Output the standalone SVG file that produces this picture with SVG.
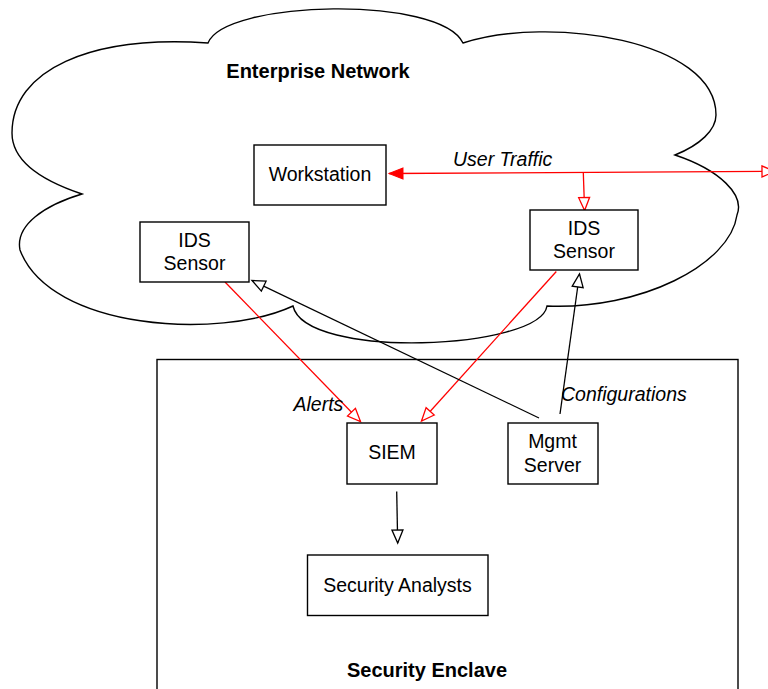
<svg xmlns="http://www.w3.org/2000/svg" width="768" height="689" viewBox="0 0 768 689">
<style>
.box{fill:#fff;stroke:#000;stroke-width:1.4}
.t{font-family:"Liberation Sans",Arial,sans-serif;font-size:19.5px;fill:#000;text-anchor:middle}
.b{font-family:"Liberation Sans",Arial,sans-serif;font-size:20px;font-weight:bold;fill:#000;text-anchor:middle}
.i{font-family:"Liberation Sans",Arial,sans-serif;font-size:19.5px;font-style:italic;fill:#000}
.red{stroke:#ff0000;stroke-width:1.3;fill:none}
.blk{stroke:#000;stroke-width:1.3;fill:none}
</style>
<defs>
<marker id="openRed" markerWidth="16" markerHeight="14" refX="14" refY="6" orient="auto" markerUnits="userSpaceOnUse" overflow="visible"><path d="M1,0.5 L14,6 L1,11.5 z" fill="#fff" stroke="#ff0000" stroke-width="1.3"/></marker>
<marker id="openRedStart" markerWidth="16" markerHeight="14" refX="14" refY="6" orient="auto-start-reverse" markerUnits="userSpaceOnUse" overflow="visible"><path d="M1,0.5 L14,6 L1,11.5 z" fill="#fff" stroke="#ff0000" stroke-width="1.3"/></marker>
<marker id="openBlk" markerWidth="16" markerHeight="14" refX="14" refY="6" orient="auto" markerUnits="userSpaceOnUse" overflow="visible"><path d="M1,0.5 L14,6 L1,11.5 z" fill="#fff" stroke="#000" stroke-width="1.3"/></marker>
<marker id="fillRed" markerWidth="16" markerHeight="14" refX="14" refY="6" orient="auto" markerUnits="userSpaceOnUse" overflow="visible"><path d="M0,0.5 L14,6 L0,11.5 z" fill="#ff0000" stroke="#ff0000" stroke-width="1"/></marker>
</defs>
<rect width="768" height="689" fill="#fff"/>
<g id="enterprise-network">
<path d="M82,194 C40,180 12,160 12,133 C12,70 90,35 208,43 C225,0 440,-5 463,43 C550,15 716,40 716,115 C716,130 700,145 675,155 C720,170 745,195 737,215 C730,265 640,310 547,306 C540,350 305,360 293,306 C220,340 50,330 20,250 C15,225 45,205 82,194 Z" fill="#fff" stroke="#000" stroke-width="1.4"/>
<text class="b" x="318" y="77.5">Enterprise Network</text>
</g>
<g id="security-enclave">
<rect x="157" y="359.5" width="581" height="360" fill="none" stroke="#000" stroke-width="1.4"/>
<text class="b" x="427" y="676.5">Security Enclave</text>
</g>
<g id="connectors">
<line class="red" x1="775" y1="171.4" x2="389" y2="173.5" marker-start="url(#openRedStart)" marker-end="url(#fillRed)"/>
<polyline class="red" points="583.3,172.6 584.6,210.5" marker-end="url(#openRed)"/>
<line class="red" x1="225" y1="282" x2="360.5" y2="421.5" marker-end="url(#openRed)"/>
<line class="red" x1="556.3" y1="271.5" x2="421.5" y2="421" marker-end="url(#openRed)"/>
<line class="blk" x1="539" y1="418" x2="252" y2="280.5" marker-end="url(#openBlk)"/>
<line class="blk" x1="560" y1="414" x2="579.5" y2="274" marker-end="url(#openBlk)"/>
<line class="blk" x1="396.7" y1="491.5" x2="397.7" y2="543" marker-end="url(#openBlk)"/>
<text class="i" x="453" y="166">User Traffic</text>
<text class="i" x="293.5" y="410.5">Alerts</text>
<text class="i" x="561" y="400.5">Configurations</text>
</g>
<g id="workstation">
<rect class="box" x="254" y="145" width="132" height="60"/>
<text class="t" x="320" y="181">Workstation</text>
</g>
<g id="ids-sensor-left">
<rect class="box" x="140" y="222" width="109" height="60"/>
<text class="t" x="194.5" y="246.5">IDS</text>
<text class="t" x="194.5" y="270">Sensor</text>
</g>
<g id="ids-sensor-right">
<rect class="box" x="530" y="210" width="108" height="60"/>
<text class="t" x="584" y="235">IDS</text>
<text class="t" x="584" y="258.3">Sensor</text>
</g>
<g id="siem">
<rect class="box" x="347" y="423" width="90" height="61"/>
<text class="t" x="392" y="459.3">SIEM</text>
</g>
<g id="mgmt-server">
<rect class="box" x="508" y="423" width="90" height="61"/>
<text class="t" x="552.5" y="448.3">Mgmt</text>
<text class="t" x="552.5" y="471.7">Server</text>
</g>
<g id="security-analysts">
<rect class="box" x="307.5" y="555" width="180.5" height="60.5"/>
<text class="t" x="397.5" y="591.5">Security Analysts</text>
</g>
</svg>
